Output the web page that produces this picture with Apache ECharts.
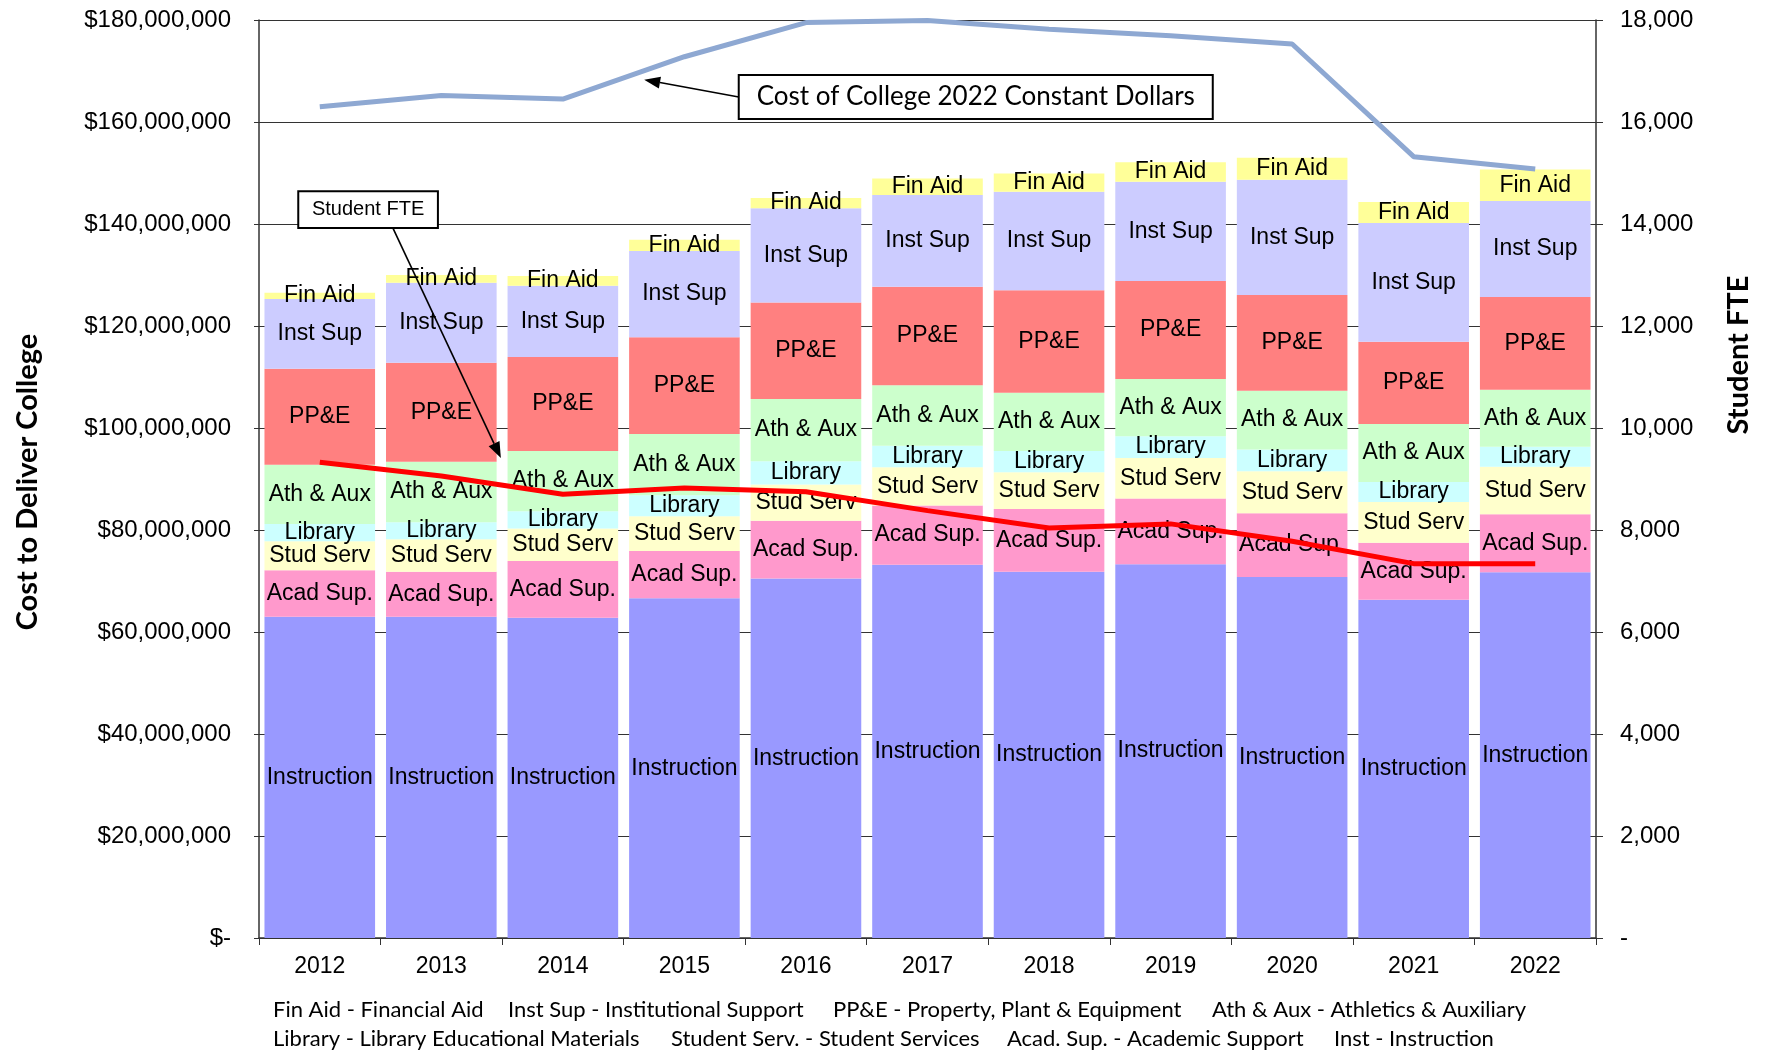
<!DOCTYPE html>
<html>
<head>
<meta charset="utf-8">
<script src="https://cdn.jsdelivr.net/npm/echarts@6/dist/echarts.min.js"></script>
<style>html,body{margin:0;padding:0;background:#fff}</style>
</head>
<body>
<div id="main" style="width:1765px;height:1056px;"></div>
<script>
// categories
var years = ["2012", "2013", "2014", "2015", "2016", "2017", "2018", "2019", "2020", "2021", "2022"];

// stacked costs, dollars
var instruction = [63000000, 63000000, 62800000, 66600000, 70500000, 73200000, 71800000, 73300000, 70800000, 66300000, 71700000];
var acadSup     = [9100000, 8800000, 11100000, 9300000, 11300000, 11600000, 12300000, 12900000, 12500000, 11200000, 11400000];
var studServ    = [5700000, 6400000, 6400000, 6800000, 7100000, 7500000, 7200000, 7900000, 8200000, 8000000, 9300000];
var library     = [3400000, 3300000, 3400000, 4100000, 4600000, 4200000, 4200000, 4300000, 4300000, 3900000, 3900000];
var athAux      = [11600000, 11900000, 11800000, 12000000, 12200000, 11900000, 11400000, 11200000, 11500000, 11400000, 11200000];
var ppe         = [18800000, 19400000, 18400000, 19000000, 18900000, 19300000, 20100000, 19200000, 18800000, 16100000, 18200000];
var instSup     = [13700000, 15700000, 14000000, 16900000, 18500000, 18000000, 19300000, 19500000, 22600000, 23300000, 18800000];
var finAid      = [1200000, 1500000, 1900000, 2200000, 2000000, 3200000, 3600000, 3800000, 4300000, 4100000, 6200000];

// lines
var costConstant = [163000000, 165200000, 164500000, 172800000, 179500000, 179900000, 178200000, 176900000, 175300000, 153200000, 150800000];
var studentFte   = [9330, 9060, 8700, 8825, 8750, 8380, 8040, 8120, 7780, 7340, 7340];

// footnote
var notes1 = ["Fin Aid - Financial Aid", "Inst Sup - Institutional Support", "PP&E - Property, Plant & Equipment", "Ath & Aux - Athletics & Auxiliary"];
var notes2 = ["Library - Library Educational Materials", "Student Serv. - Student Services", "Acad. Sup. - Academic Support", "Inst - Instruction"];

var FONT = "Liberation Sans, Arial, sans-serif";
var CAL = "Lato, 'Open Sans', sans-serif";

function stackBar(name, label, data, color) {
  return {
    name: name,
    type: "bar",
    stack: "cost",
    data: data,
    barCategoryGap: "9%",
    itemStyle: { color: color },
    label: {
      show: true,
      position: "inside",
      formatter: label,
      color: "#000",
      fontFamily: FONT,
      fontSize: 23
    }
  };
}

var chart = echarts.init(document.getElementById("main"));
var option = {
  animation: false,
  backgroundColor: "#fff",
  grid: { left: 259, right: 169, top: 20, bottom: 118 },
  xAxis: [
    {
      type: "category",
      data: years,
      axisLine: { lineStyle: { color: "#333", width: 1.5 } },
      axisTick: { show: true, length: 7, lineStyle: { color: "#333" } },
      axisLabel: { color: "#000", fontFamily: FONT, fontSize: 23, margin: 17 }
    },
    {
      type: "value",
      min: -0.5,
      max: 10.5,
      show: false
    }
  ],
  yAxis: [
    {
      type: "value",
      min: 0,
      max: 180000000,
      interval: 20000000,
      axisLine: { show: true, onZero: false, lineStyle: { color: "#333", width: 1.5 } },
      axisTick: { show: true, length: 5, lineStyle: { color: "#333" } },
      splitLine: { show: true, lineStyle: { color: "#333", width: 1.2 } },
      axisLabel: {
        color: "#000",
        fontFamily: FONT,
        fontSize: 24,
        margin: 28,
        formatter: function (v) {
          return v === 0 ? "$-" : "$" + v.toLocaleString("en-US");
        }
      }
    },
    {
      type: "value",
      min: 0,
      max: 18000,
      interval: 2000,
      position: "right",
      axisLine: { show: true, onZero: false, lineStyle: { color: "#333", width: 1.5 } },
      axisTick: { show: true, length: 7, lineStyle: { color: "#333" } },
      splitLine: { show: false },
      axisLabel: {
        color: "#000",
        fontFamily: FONT,
        fontSize: 24,
        margin: 24,
        formatter: function (v) {
          return v === 0 ? "-" : v.toLocaleString("en-US");
        }
      }
    }
  ],
  series: [
    stackBar("Instruction", "Instruction", instruction, "#9999FF"),
    stackBar("Acad Sup", "Acad Sup.", acadSup, "#FF99CC"),
    stackBar("Stud Serv", "Stud Serv", studServ, "#FFFFCC"),
    stackBar("Library", "Library", library, "#CCFFFF"),
    stackBar("Ath & Aux", "Ath & Aux", athAux, "#CCFFCC"),
    stackBar("PP&E", "PP&E", ppe, "#FF8080"),
    stackBar("Inst Sup", "Inst Sup", instSup, "#CCCCFF"),
    stackBar("Fin Aid", "Fin Aid", finAid, "#FFFF99"),
    {
      name: "Student FTE",
      type: "line",
      yAxisIndex: 1,
      data: studentFte,
      symbol: "none",
      lineStyle: { color: "#FF0000", width: 5 },
      z: 5
    },
    {
      name: "Cost of College 2022 Constant Dollars",
      type: "line",
      data: costConstant,
      symbol: "none",
      lineStyle: { color: "#8EA8D2", width: 5 },
      z: 5
    }
  ]
};
chart.setOption(option);

// annotations placed in data space (x = category index on hidden value axis)
function px(x, y) {
  return [chart.convertToPixel({ xAxisIndex: 1 }, x), chart.convertToPixel({ yAxisIndex: 0 }, y)];
}
function arrow(from, to) {
  var a = px(from[0], from[1]), b = px(to[0], to[1]);
  var dx = b[0] - a[0], dy = b[1] - a[1], len = Math.sqrt(dx * dx + dy * dy);
  var ux = dx / len, uy = dy / len, L = 16, W = 12;
  var bx = b[0] - ux * L, by = b[1] - uy * L;
  return [
    { type: "line", z: 20, shape: { x1: a[0], y1: a[1], x2: bx, y2: by }, style: { stroke: "#000", lineWidth: 1.6 } },
    { type: "polygon", z: 20, shape: { points: [b, [bx - uy * W / 2, by + ux * W / 2], [bx + uy * W / 2, by - ux * W / 2]] }, style: { fill: "#000" } }
  ];
}
function box(x0, y0, x1, y1, text, font) {
  var p = px(x0, y0), q = px(x1, y1);
  return [
    { type: "rect", z: 21, shape: { x: p[0], y: p[1], width: q[0] - p[0], height: q[1] - p[1] }, style: { fill: "#fff", stroke: "#000", lineWidth: 2 } },
    { type: "text", z: 22, style: { text: text, x: (p[0] + q[0]) / 2, y: (p[1] + q[1]) / 2, align: "center", verticalAlign: "middle", font: font, fill: "#000" } }
  ];
}

var g = [];
g = g.concat(arrow([3.447, 164900000], [2.669, 168300000]));
g = g.concat(box(3.447, 169200000, 7.347, 160600000, "Cost of College 2022 Constant Dollars", "26px " + CAL));
g = g.concat(arrow([0.602, 139200000], [1.49, 94100000]));
g = g.concat(box(-0.177, 146400000, 0.972, 139200000, "Student FTE", "20px " + FONT));

g.push({ type: "text", rotation: Math.PI / 2, x: 28, y: 482, style: { text: "Cost to Deliver College", align: "center", verticalAlign: "middle", font: "bold 29px " + CAL, fill: "#000" } });
g.push({ type: "text", rotation: Math.PI / 2, x: 1739, y: 355, style: { text: "Student FTE", align: "center", verticalAlign: "middle", font: "bold 29px " + CAL, fill: "#000" } });

var n1x = [273, 508, 833, 1212], n2x = [273, 671, 1007, 1334];
notes1.forEach(function (t, i) {
  g.push({ type: "text", x: n1x[i], y: 1010, style: { text: t, verticalAlign: "middle", font: "22px " + CAL, fill: "#000" } });
});
notes2.forEach(function (t, i) {
  g.push({ type: "text", x: n2x[i], y: 1039, style: { text: t, verticalAlign: "middle", font: "22px " + CAL, fill: "#000" } });
});

chart.setOption({ graphic: g });
</script>
</body>
</html>
